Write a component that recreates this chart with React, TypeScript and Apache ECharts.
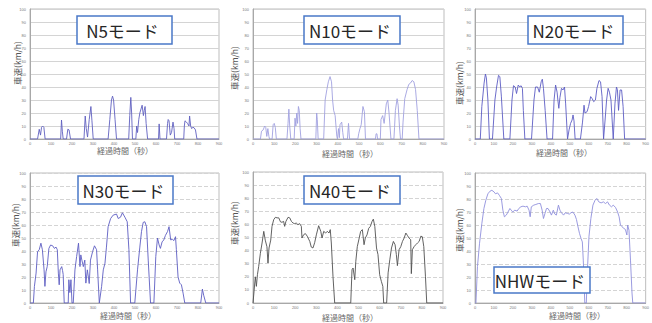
import React, { useEffect, useRef } from "react";
import * as echarts from "echarts";

const modeNames = ["N5モード", "N10モード", "N20モード", "N30モード", "N40モード", "NHWモード"];
const xTitle = "経過時間（秒）";
const yTitle = "車速(km/h)";

const n5: number[][] = [
  [0, 0], [36, 0], [44, 7.5], [50, 3], [55, 9], [60, 10], [66, 9], [72, 0],
  [146, 0], [150, 14.6], [154, 6], [158, 0],
  [174, 0], [180, 7.5], [186, 7], [193, 0],
  [257, 0], [263, 17.7], [268, 8], [274, 1.5], [282, 15], [290, 25], [295, 14], [301, 0],
  [372, 0], [380, 15], [388, 30], [393, 33], [398, 30], [405, 15], [412, 0],
  [470, 0], [475, 18], [480, 32], [484, 20], [488, 0],
  [504, 0], [508, 10], [512, 5], [518, 15], [523, 20], [534, 26], [540, 18], [544, 22], [548, 25], [553, 12], [560, 0],
  [612, 0], [615, 11.6], [619, 0],
  [650, 0], [655, 12], [658, 15], [662, 14], [668, 3], [674, 5], [681, 13], [686, 8], [689, 0],
  [732, 0], [735, 10], [738, 14], [745, 13], [750, 12], [757, 10], [760, 17.7], [765, 10], [770, 8], [775, 9], [781, 8.7], [788, 7], [795, 0], [900, 0],
];

const n10: number[][] = [
  [0, 0], [35, 0], [40, 6], [48, 7], [55, 10], [60, 9], [65, 2], [70, 8], [75, 2], [78, 0],
  [90, 0], [95, 11], [100, 12], [105, 9], [110, 0],
  [160, 0], [165, 12], [169, 23], [173, 10], [178, 0],
  [194, 0], [198, 16], [202, 10], [206, 20], [210, 12], [214, 25], [218, 22], [222, 8], [226, 0],
  [296, 0], [300, 20], [303, 15], [307, 0],
  [333, 0], [340, 30], [348, 38], [355, 44], [363, 48], [370, 44], [375, 30], [380, 22], [387, 18], [395, 2], [398, 0],
  [400, 0], [403, 8], [407, 1], [410, 11], [418, 13], [423, 5], [427, 0], [445, 0], [450, 12], [455, 0],
  [494, 0], [498, 4], [504, 8], [510, 11], [518, 25], [525, 21], [530, 0],
  [577, 0], [580, 4], [584, 4], [587, 0],
  [600, 0], [603, 15], [611, 18], [618, 12], [628, 27], [635, 30], [641, 20], [650, 0],
  [664, 0], [667, 9], [671, 22], [679, 31], [684, 26], [690, 10], [695, 0],
  [703, 0], [707, 13], [715, 31], [726, 38], [734, 42], [742, 43], [750, 45], [758, 44], [766, 38], [774, 22], [782, 0], [900, 0],
];

const n20: number[][] = [
  [0, 0], [28, 0], [36, 25], [48, 43], [55, 50], [60, 47], [68, 30], [76, 0],
  [92, 0], [105, 30], [114, 40], [124, 49], [131, 48], [139, 33], [152, 0],
  [184, 0], [195, 30], [203, 41], [212, 40], [219, 35], [228, 41.5], [236, 40], [243, 41], [250, 39], [255, 22], [263, 0],
  [298, 0], [311, 30], [319, 40], [330, 40], [339, 36], [349, 44], [355, 46], [361, 39], [370, 22], [380, 0],
  [409, 0], [417, 30], [425, 41.5], [433, 36], [437, 30], [442, 23.6], [448, 32], [456, 39], [464, 37.7], [472, 40], [478, 27], [488, 0],
  [496, 7], [504, 12], [512, 14.6], [517, 18.5], [522, 14], [528, 0],
  [556, 0], [567, 13], [575, 26], [580, 20], [591, 21], [599, 25], [610, 32.6], [618, 31], [626, 28.7], [635, 30], [643, 39], [654, 45], [662, 44], [670, 32.6], [678, 0],
  [686, 14.6], [694, 30], [702, 39], [709, 36], [717, 30], [729, 0],
  [738, 27], [746, 40], [751, 38], [757, 22], [765, 37.7], [773, 37.7], [781, 25], [789, 0], [900, 0],
];

const n30: number[][] = [
  [0, 0], [16, 0], [21, 12.8], [29, 23], [36, 39.5], [44, 41], [52, 46], [59, 41], [67, 25.5], [71, 12.8], [76, 24], [82, 28], [90, 42], [98, 44.6], [108, 44], [116, 42], [124, 43], [130, 41], [135, 23], [139, 14], [143, 25.5], [151, 28], [155, 25], [158, 22], [163, 0],
  [182, 0], [185, 17.9], [190, 8], [195, 17.9], [200, 0],
  [206, 0], [214, 25.5], [222, 35.7], [231, 46], [238, 28], [242, 37], [247, 33], [254, 28], [261, 33], [266, 15.3], [273, 25.5], [278, 20], [282, 15], [288, 33], [298, 39.5], [307, 44], [317, 41], [322, 25.5], [330, 0],
  [333, 0], [341, 12.8], [349, 25.5], [357, 30.6], [364, 43], [372, 58.7], [384, 65], [396, 67.6], [412, 68.4], [420, 65], [431, 66], [440, 69.4], [452, 66], [463, 62.5], [471, 41], [479, 0],
  [499, 0], [512, 25.5], [523, 43], [531, 55], [539, 62], [547, 62.5], [555, 58.7], [563, 33], [574, 0],
  [590, 0], [599, 35.7], [607, 50], [615, 44.6], [621, 42], [629, 47], [637, 48.5], [645, 52], [655, 55], [662, 58.7], [670, 48.5], [678, 49], [685, 48], [693, 51], [697, 41], [705, 20], [713, 15.3], [721, 14], [729, 7.6], [737, 0],
  [813, 0], [821, 10.7], [827, 6], [837, 0], [900, 0],
];

const n40: number[][] = [
  [0, 0], [5, 9], [11, 20], [16, 12.7], [21, 21.6], [27, 28], [35, 38], [43, 45.8], [51, 54.7], [58, 48], [66, 43], [71, 30.5], [76, 42], [84, 48], [90, 58.5], [98, 63.6], [106, 65.4], [114, 65], [122, 65], [130, 62], [137, 61.6], [145, 62.3], [150, 58.5], [156, 62.3], [166, 65.4], [174, 65], [182, 62.3], [190, 61], [197, 60.6], [205, 61], [213, 59.8], [221, 60.6], [229, 58.5], [232, 49.6], [239, 52], [248, 53], [257, 51], [269, 47], [276, 42.7], [284, 42], [292, 46], [300, 52], [311, 59], [321, 54.7], [327, 49.6], [335, 54.7], [344, 53.4], [352, 54.7], [360, 53.4], [366, 56], [371, 45.8], [379, 20], [387, 0],
  [463, 0], [469, 25.4], [474, 26.7], [482, 17.8], [487, 31.8], [494, 43], [502, 48.8], [510, 54.7], [518, 56], [526, 44.5], [532, 49.6], [540, 52], [548, 57], [556, 58.5], [564, 62.3], [570, 64], [577, 58.5], [585, 42], [592, 37], [600, 21.6], [608, 16.5], [615, 12.7], [619, 0],
  [633, 0], [640, 23], [648, 33], [656, 42], [665, 47], [673, 44.5], [679, 37], [684, 28.5], [692, 40.7], [700, 43], [708, 47], [716, 49.6], [724, 53.4], [732, 51.4], [739, 49.6], [747, 48.3], [750, 22.4], [755, 40.7], [763, 43], [771, 44.5], [779, 45.8], [787, 47], [795, 51], [802, 50.6], [809, 43], [817, 20], [823, 0], [900, 0],
];

const nhw: number[][] = [
  [0, 0], [5, 0], [13, 28], [24, 46], [36, 61], [47, 72.7], [57, 79], [68, 84], [79, 86], [89, 86.7], [100, 85.5], [108, 84], [119, 84.7], [128, 82.9], [139, 80.4], [147, 71.4], [155, 66.3], [165, 67.6], [174, 70], [184, 72.7], [191, 71.4], [199, 70], [210, 71.4], [222, 70.7], [231, 72.7], [242, 74], [253, 74.5], [266, 74], [275, 74.5], [285, 71.4], [291, 66.3], [297, 74], [310, 75.3], [321, 75.8], [334, 76.5], [345, 76.5], [354, 71.4], [361, 65], [369, 68.9], [377, 72.7], [385, 72.7], [396, 70], [403, 67.6], [413, 71.4], [421, 68.4], [429, 67.6], [440, 75.3], [448, 71.4], [456, 69.4], [467, 67.6], [476, 69.4], [487, 68.9], [498, 68.4], [506, 69.4], [516, 70], [527, 67.6], [535, 64.3], [543, 58.7], [551, 53.6], [559, 49.7], [566, 47], [571, 33], [576, 12.8], [579, 0],
  [587, 0], [593, 25.5], [601, 51], [611, 65], [622, 75.3], [633, 79], [642, 80.4], [653, 77.8], [665, 77], [677, 77.8], [688, 76.5], [699, 77.8], [709, 75.3], [720, 74], [729, 75.3], [741, 73.5], [752, 70], [760, 66.3], [767, 60], [775, 58.7], [785, 57.4], [793, 56.6], [801, 52.3], [805, 60], [812, 56], [820, 33], [828, 7.7], [832, 0], [900, 0],
];

const seriesData = [n5, n10, n20, n30, n40, nhw];

export default function App() {
  const ref = useRef<HTMLDivElement>(null);
  useEffect(() => {
    if (!ref.current) return;
    const chart = echarts.init(ref.current, null, { renderer: "svg" });

    const grids = [
      { left: 30, top: 9, width: 189, height: 130 },
      { left: 253, top: 9, width: 191, height: 130 },
      { left: 475, top: 9, width: 190, height: 130 },
      { left: 30, top: 173, width: 189, height: 130 },
      { left: 253, top: 172, width: 190, height: 131 },
      { left: 475, top: 173, width: 190, height: 130 },
    ];
    const lineColors = ["#6060c0", "#a0a0e0", "#5c5cc4", "#5c5cc2", "#505050", "#9090dc"];
    const yTitlePos = [
      [17, 63], [234, 68], [459, 83], [15, 225], [234, 223], [459, 230],
    ];
    const xTitlePos = [
      [125, 150], [350, 153], [564, 152], [128, 315], [350, 317], [577, 315],
    ];
    const boxes = [
      [77, 16, 95, 28], [304, 16, 96, 28], [528, 16, 95, 28],
      [78, 176, 95, 28], [304, 176, 96, 28], [494, 267, 96, 26],
    ];

    const graphic: any[] = [];
    for (let i = 0; i < 6; i++) {
      graphic.push({
        type: "text", x: yTitlePos[i][0], y: yTitlePos[i][1], rotation: Math.PI / 2, z: 5,
        style: {
          text: yTitle, fontSize: 8.5, fontFamily: "Noto Sans CJK JP", fill: "#555",
          align: "center", verticalAlign: "middle", textAlign: "center", textVerticalAlign: "middle",
          backgroundColor: "#fff",
        },
      });
      graphic.push({
        type: "text", x: xTitlePos[i][0], y: xTitlePos[i][1], z: 5,
        style: {
          text: xTitle, fontSize: 8, fontFamily: "Noto Sans CJK JP", fill: "#666",
          align: "center", verticalAlign: "middle", textAlign: "center", textVerticalAlign: "middle",
        },
      });
      const b = boxes[i];
      graphic.push({
        type: "rect", z: 10,
        shape: { x: b[0], y: b[1], width: b[2], height: b[3] },
        style: { fill: "#fff", stroke: "#4a78c8", lineWidth: 1.5 },
      });
      graphic.push({
        type: "text", x: b[0] + b[2] / 2 - 2, y: b[1] + b[3] / 2 + 0.5, z: 11,
        style: {
          text: modeNames[i], fontSize: 17, fontFamily: "Noto Sans CJK JP", fill: "#262626",
          align: "center", verticalAlign: "middle", textAlign: "center", textVerticalAlign: "middle",
        },
      });
    }

    chart.setOption({
      animation: false,
      grid: grids.map((g) => ({ ...g, show: true, borderColor: "#bdbdbd", borderWidth: 1, backgroundColor: "transparent" })),
      xAxis: grids.map((_, i) => ({
        type: "value", gridIndex: i, min: 0, max: 900, interval: 100,
        axisLine: { show: true, lineStyle: { color: "#a8a8a8", width: 1 } },
        axisTick: { show: false },
        splitLine: { show: false },
        axisLabel: { fontSize: 4, color: "#777", margin: 2, showMaxLabel: true, showMinLabel: true },
      })),
      yAxis: grids.map((_, i) => ({
        type: "value", gridIndex: i, min: 0, max: 100, interval: 10,
        axisLine: { show: true, lineStyle: { color: "#a8a8a8", width: 1 } },
        axisTick: { show: false },
        splitLine: { show: true, lineStyle: { color: "#d4d4d4", width: 1, type: i < 3 ? "solid" : "dashed" } },
        axisLabel: { fontSize: 4, color: "#777", margin: 4 },
      })),
      series: seriesData.map((d, i) => ({
        type: "line", xAxisIndex: i, yAxisIndex: i, data: d, showSymbol: false, symbol: "none",
        lineStyle: { color: lineColors[i], width: 0.9 }, z: 3,
      })),
      graphic,
    });
    return () => chart.dispose();
  }, []);
  return (
    <div
      ref={ref}
      style={{ position: "absolute", left: 0, top: 0, width: 652, height: 323, overflow: "hidden", background: "#fff" }}
    />
  );
}
